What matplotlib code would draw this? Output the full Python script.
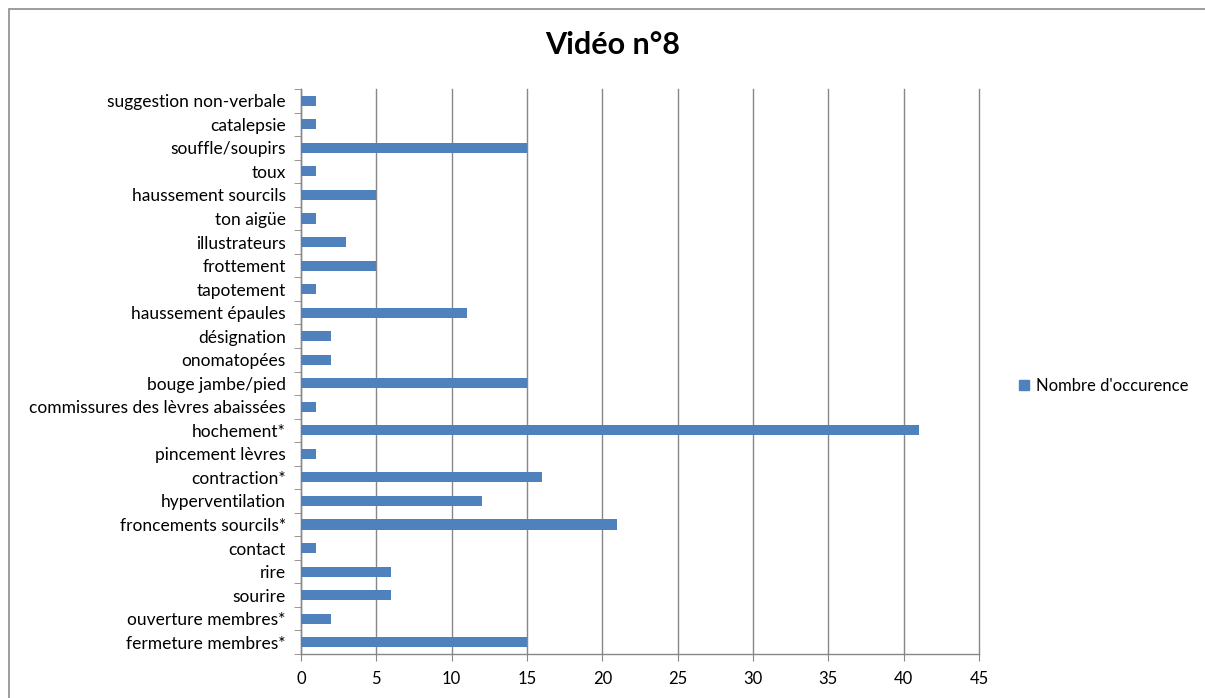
import matplotlib.pyplot as plt
from matplotlib.patches import Rectangle, Patch
import numpy as np

categories = [
    "fermeture membres*", "ouverture membres*", "sourire", "rire", "contact",
    "froncements sourcils*", "hyperventilation", "contraction*", "pincement lèvres",
    "hochement*", "commissures des lèvres abaissées", "bouge jambe/pied",
    "onomatopées", "désignation", "haussement épaules", "tapotement",
    "frottement", "illustrateurs", "ton aigüe", "haussement sourcils", "toux",
    "souffle/soupirs", "catalepsie", "suggestion non-verbale",
]
occurrences = [15, 2, 6, 6, 1, 21, 12, 16, 1, 41, 1, 15, 2, 2, 11, 1, 5, 3, 1, 5, 1, 15, 1, 1]
x_ticks = [0, 5, 10, 15, 20, 25, 30, 35, 40, 45]
series_name = "Nombre d'occurence"
title = "Vidéo n°8"

plt.rcParams['font.family'] = ['Lato', 'DejaVu Sans']
bar_color = "#4F81BD"
grid_color = "#878787"

W, H = 1205, 698
fig = plt.figure(figsize=(W / 100, H / 100), dpi=100)

# outer chart frame
fig.patches.append(Rectangle((9 / W, -0.05), 1.2, 1 - 9 / H + 0.05,
                             transform=fig.transFigure, fill=False,
                             edgecolor="#8c8c8c", linewidth=1.2))

ax = fig.add_axes([301 / W, 1 - 654 / H, (979 - 301) / W, (654 - 89) / H])
y = np.arange(len(categories))
ax.barh(y, occurrences, height=0.43, color=bar_color, zorder=3)

ax.set_xlim(0, 45)
ax.set_ylim(-0.5, len(categories) - 0.5)
ax.set_xticks(x_ticks)
ax.set_xticklabels([str(t) for t in x_ticks], fontsize=12)
ax.set_yticks(y)
ax.set_yticklabels(categories, fontsize=12.5)
ax.set_yticks(np.arange(-0.5, len(categories), 1), minor=True)
ax.tick_params(axis='y', which='major', length=0, pad=11)
ax.tick_params(axis='y', which='minor', length=5, color=grid_color, direction='out')
ax.tick_params(axis='x', which='major', length=5, color=grid_color, pad=7)

ax.grid(axis='x', color=grid_color, linewidth=1, zorder=0)
for gl in ax.get_xgridlines():
    gl.set_clip_on(False)
for s in ("top", "right"):
    ax.spines[s].set_visible(False)
for s in ("left", "bottom"):
    ax.spines[s].set_color(grid_color)
    ax.spines[s].set_linewidth(1)

fig.text(613 / W, 1 - 45 / H, title, ha='center', va='center',
         fontsize=22, fontweight='bold')

fig.legend(handles=[Patch(color=bar_color, label=series_name)],
           loc='center left', bbox_to_anchor=(1004 / W, 1 - 386 / H),
           frameon=False, fontsize=12, handlelength=0.6, handleheight=0.6,
           handletextpad=0.4)

fig.savefig("out.png", dpi=100)
